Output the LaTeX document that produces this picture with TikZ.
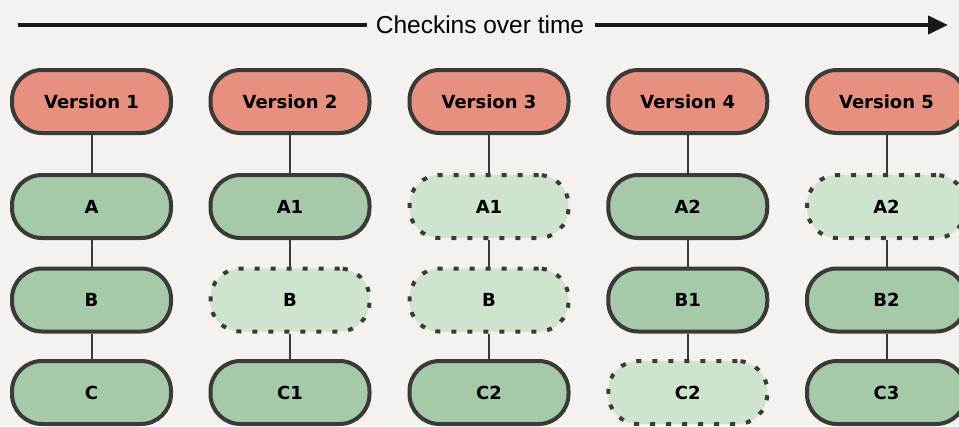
\documentclass[tikz,border=0pt]{standalone}
\usepackage{fontspec}
\setmainfont{DejaVu Sans}
\newfontfamily\headfont{Liberation Sans}
\usetikzlibrary{arrows.meta}

\definecolor{paper}{HTML}{F4F1EE}
\definecolor{edge}{HTML}{3A3A38}
\definecolor{versionfill}{HTML}{E8907F}
\definecolor{filefill}{HTML}{A6CAA9}
\definecolor{samefill}{HTML}{CFE4CF}

\tikzset{
  blob/.style={draw=edge, line width=4pt, rounded corners=30pt,
    minimum width=159pt, minimum height=63pt, inner sep=0pt,
    font=\fontsize{18}{21}\selectfont\bfseries, text=black},
  versionbox/.style={blob, fill=versionfill},
  filebox/.style={blob, fill=filefill},
  samebox/.style={blob, fill=samefill, dash pattern=on 5pt off 11pt},
  link/.style={draw=edge, line width=2pt},
  timeline/.style={draw=black!90, line width=4pt},
}

\begin{document}
\begin{tikzpicture}[x=1pt, y=-1pt]
  \fill[paper] (0,0) rectangle (959,426);
  \useasboundingbox (0,0) rectangle (959,426);

  % time axis
  \node[font=\headfont\fontsize{24.5}{28}\selectfont, inner sep=0pt] (title) at (480,25) {Checkins over time};
  \coordinate (tstart) at (18,25);
  \coordinate (tend) at (948,25);
  \draw[timeline] (tstart) -- ([xshift=-9pt]title.west);
  \draw[timeline, -{Triangle[length=20pt, width=18pt]}] ([xshift=11pt]title.east) -- (tend);

  % versions
  \node[versionbox] (v1) at (91.5,101.5) {Version 1};
  \node[versionbox] (v2) at (290,101.5) {Version 2};
  \node[versionbox] (v3) at (489,101.5) {Version 3};
  \node[versionbox] (v4) at (687.75,101.5) {Version 4};
  \node[versionbox] (v5) at (886.5,101.5) {Version 5};

  % version 1
  \node[filebox] (a1) at (91.5,206.5) {A};
  \node[filebox] (b1) at (91.5,300) {B};
  \node[filebox] (c1) at (91.5,392.5) {C};
  % version 2
  \node[filebox] (a2) at (290,206.5) {A1};
  \node[samebox] (b2) at (290,300) {B};
  \node[filebox] (c2) at (290,392.5) {C1};
  % version 3
  \node[samebox] (a3) at (489,206.5) {A1};
  \node[samebox] (b3) at (489,300) {B};
  \node[filebox] (c3) at (489,392.5) {C2};
  % version 4
  \node[filebox] (a4) at (687.75,206.5) {A2};
  \node[filebox] (b4) at (687.75,300) {B1};
  \node[samebox] (c4) at (687.75,392.5) {C2};
  % version 5
  \node[samebox] (a5) at (886.5,206.5) {A2};
  \node[filebox] (b5) at (886.5,300) {B2};
  \node[filebox] (c5) at (886.5,392.5) {C3};

  % chains
  \foreach \i in {1,...,5} {
    \draw[link] (v\i.south) -- (a\i.north);
    \draw[link] (a\i.south) -- (b\i.north);
    \draw[link] (b\i.south) -- (c\i.north);
  }
\end{tikzpicture}
\end{document}
